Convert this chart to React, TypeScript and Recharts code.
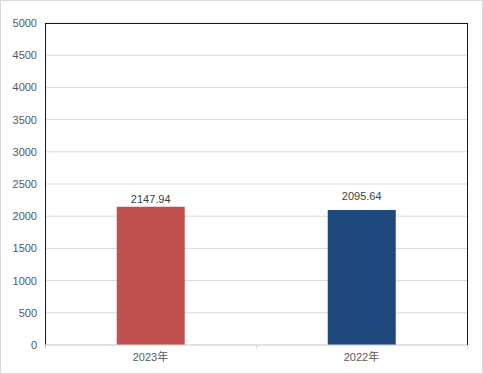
import { Bar, BarChart, CartesianGrid, Cell, LabelList, XAxis, YAxis, usePlotArea } from "recharts"

const years = ["2023年", "2022年"]
const amounts = [2147.94, 2095.64]
const barColors = ["#C0504D", "#1F497D"]
const yTicks = [0, 500, 1000, 1500, 2000, 2500, 3000, 3500, 4000, 4500, 5000]

const data = years.map((name, i) => ({ name, value: amounts[i] }))

const font = "'Liberation Sans', 'Noto Sans CJK SC', sans-serif"
const blue = "#0000CC"
// label gap above each bar (the two labels sit at different heights in the original)
const labelGaps = [4, 10]

function Frame() {
  const area = usePlotArea()
  if (!area) return null
  const { x, y, width, height } = area
  const bottom = y + height
  const edges = [0, 0.5, 1].map((f) => Math.round(x + f * width) + 0.5)
  return (
    <g>
      <path
        d={`M${edges[0]},${bottom} L${edges[0]},${Math.round(y) + 0.5} L${edges[2]},${Math.round(y) + 0.5} L${edges[2]},${bottom}`}
        fill="none"
        stroke={blue}
        strokeWidth={1}
        shapeRendering="crispEdges"
      />
      {edges.map((ex) => (
        <line key={ex} x1={ex} x2={ex} y1={bottom} y2={bottom + 4} stroke="#d9d9d9" shapeRendering="crispEdges" />
      ))}
    </g>
  )
}

function BarLabel(props: any) {
  const { x, y, width, value, index } = props
  return (
    <text
      x={x + width / 2}
      y={y - labelGaps[index]}
      textAnchor="middle"
      fontSize={11}
      fill="#404040"
      fontFamily={font}
    >
      {value}
    </text>
  )
}

export default function App() {
  return (
    <div
      style={{
        position: "absolute",
        left: 0,
        top: 0,
        width: 483,
        height: 374,
        boxSizing: "border-box",
        border: "1px solid #d9d9d9",
        background: "#fff",
        fontFamily: font,
      }}
    >
      <BarChart
        width={481}
        height={372}
        data={data}
        margin={{ top: 22, right: 15, left: 4, bottom: 4 }}
        barCategoryGap="34%"
        style={{ position: "absolute", left: 0, top: 0 }}
      >
        <CartesianGrid vertical={false} stroke="#d9d9d9" />
        <XAxis
          dataKey="name"
          tickLine={false}
          axisLine={{ stroke: "#d9d9d9" }}
          tick={{ fontSize: 11, fill: "#595959", fontFamily: font }}
          height={24}
        />
        <YAxis
          domain={[0, 5000]}
          ticks={yTicks}
          tickLine={false}
          axisLine={false}
          width={40}
          tick={{ fontSize: 11, fill: "#595959", fontFamily: font }}
        />
        <Bar dataKey="value" isAnimationActive={false}>
          {data.map((d, i) => (
            <Cell key={d.name} fill={barColors[i]} />
          ))}
          <LabelList dataKey="value" content={BarLabel} />
        </Bar>
        <Frame />
      </BarChart>
    </div>
  )
}
